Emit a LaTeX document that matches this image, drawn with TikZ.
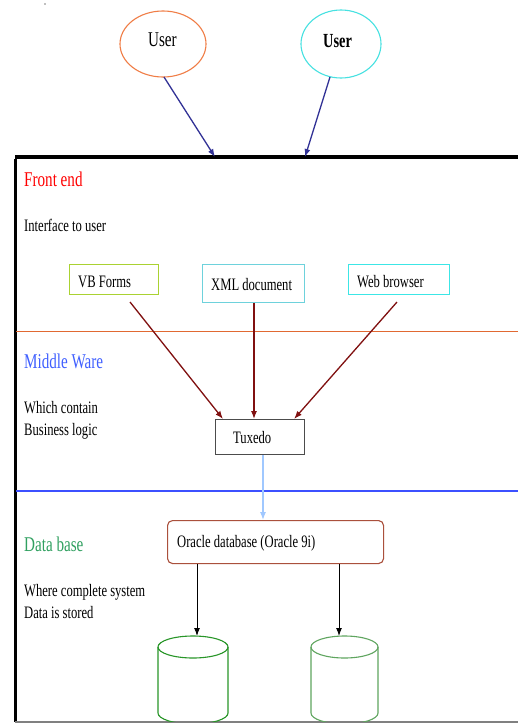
\documentclass[tikz,border=0pt]{standalone}
\usepackage{fontspec}
\setmainfont{Liberation Serif}[FakeStretch=0.72]
\usetikzlibrary{arrows.meta,shapes.geometric}
\definecolor{uorange}{RGB}{240,125,70}
\definecolor{ucyan}{RGB}{70,225,225}
\definecolor{unavy}{RGB}{50,50,150}
\definecolor{fered}{RGB}{255,0,0}
\definecolor{mwblue}{RGB}{64,96,255}
\definecolor{dbgreen}{RGB}{48,160,96}
\definecolor{vbcol}{RGB}{170,210,50}
\definecolor{xmlcol}{RGB}{110,210,220}
\definecolor{webcol}{RGB}{60,230,230}
\definecolor{darrow}{RGB}{128,16,16}
\definecolor{seporange}{RGB}{225,105,50}
\definecolor{sepblue}{RGB}{60,80,255}
\definecolor{lblue}{RGB}{160,200,255}
\definecolor{oracol}{RGB}{170,80,60}
\definecolor{cylA}{RGB}{40,150,40}
\definecolor{cylB}{RGB}{95,165,95}
\tikzset{
  lbl/.style={anchor=base west,inner sep=0pt,font=\fontsize{17.5}{20}\selectfont},
  head/.style={anchor=base west,inner sep=0pt,font=\fontsize{21}{24}\selectfont},
  tbox/.style={draw,line width=1.1pt,inner sep=0pt,anchor=north west},
  userell/.style={ellipse,draw,line width=1.1pt,inner sep=0pt},
  uarrow/.style={draw=unavy,line width=1.3pt,-{Latex[length=8pt,width=6pt]}},
  rarrow/.style={draw=darrow,line width=1.3pt,-{Latex[length=8pt,width=6pt]}},
  barrow/.style={draw=black,line width=1pt,-{Latex[length=8pt,width=6pt]}},
}
\begin{document}
\begin{tikzpicture}[x=1pt,y=-1pt]
\useasboundingbox[fill=white] (0,0) rectangle (518,723);
% speck
\fill[gray] (45,4) circle (0.8);
% users
\node[userell,draw=uorange,minimum width=86pt,minimum height=66pt] (u1) at (163,44) {};
\node[anchor=base west,inner sep=0pt,font=\fontsize{21}{24}\selectfont] (u1t) at (148,46) {User};
\node[userell,draw=ucyan,minimum width=80pt,minimum height=68pt] (u2) at (341,44) {};
\node[anchor=base west,inner sep=0pt,font=\fontsize{20}{24}\selectfont\bfseries] (u2t) at (323,47) {User};
% frame
\coordinate (tl) at (15,157);
\coordinate (tr) at (518,157);
\coordinate (bl) at (15,722);
\coordinate (br) at (518,722);
\draw[line width=4pt] (tl) -- (tr);
\draw[line width=3pt] ([yshift=-2pt]tl) -- (bl);
\draw[line width=1.5pt,gray] (bl) -- (br);
\coordinate (a1) at (215,157);
\coordinate (a2) at (305,157);
\coordinate (u1o) at (164,77);
\coordinate (u2o) at (330,77);
\draw[uarrow] (u1o) -- (a1);
\draw[uarrow] (u2o) -- (a2);
% separators
\coordinate (s1l) at (16,331);
\coordinate (s1r) at (518,331);
\draw[seporange,line width=1pt] (s1l) -- (s1r);
\coordinate (s2l) at (16,491);
\coordinate (s2r) at (518,491);
\draw[sepblue,line width=1.2pt] (s2l) -- (s2r);
% section texts
\node[head,text=fered] (fe) at (24,186) {Front end};
\node[lbl] (iu) at (24,231) {Interface to user};
\node[head,text=mwblue] (mw) at (24,368) {Middle Ware};
\node[lbl] (wc) at (24,413) {Which contain};
\node[lbl] (bl1) at (24,435) {Business logic};
\node[head,text=dbgreen] (db) at (24,551) {Data base};
\node[lbl] (wcs) at (24,596) {Where complete system};
\node[lbl] (dis) at (24,618) {Data is stored};
% front-end boxes
\node[tbox,draw=vbcol,minimum width=89pt,minimum height=30pt] (vb) at (69,264) {};
\node[lbl] (vbt) at (78,287) {VB Forms};
\node[tbox,draw=xmlcol,minimum width=102pt,minimum height=38pt] (xml) at (202,264) {};
\node[lbl] (xmlt) at (211,290) {XML document};
\node[tbox,draw=webcol,minimum width=101pt,minimum height=30pt] (web) at (348,264) {};
\node[lbl] (webt) at (357,287) {Web browser};
% tuxedo
\node[tbox,draw=black!70,minimum width=89pt,minimum height=35pt] (tux) at (215,419) {};
\node[lbl] (tuxt) at (233,443) {Tuxedo};
\coordinate (vbo) at (130,302);
\coordinate (webo) at (397,302);
\coordinate (xcol) at (254,0);
\draw[rarrow] (vbo) -- ([xshift=8pt]tux.north west);
\draw[rarrow] (xml.south -| xcol) -- (tux.north -| xcol);
\draw[rarrow] (webo) -- ([xshift=-11pt]tux.north east);
% oracle
\node[tbox,draw=oracol,rounded corners=5pt,minimum width=216pt,minimum height=43pt] (ora) at (167,520) {};
\node[lbl] (orat) at (177,547) {Oracle database (Oracle 9i)};
\coordinate (tcol) at (263,0);
\draw[draw=lblue,line width=1.2pt,-{Latex[length=8pt,width=6pt]}] (tux.south -| tcol) -- (ora.north -| tcol);
% cylinders
\begin{scope}
\clip (0,0) rectangle (518,721);
\draw[cylA,line width=1.1pt] (193,647) ellipse (35 and 11);
\draw[cylA,line width=1.1pt] (158,647) -- (158,713) arc[start angle=180,end angle=360,x radius=35,y radius=-11] -- (228,647);
\draw[cylB,line width=1.1pt] (344.5,647) ellipse (33.5 and 11);
\draw[cylB,line width=1.1pt] (311,647) -- (311,713) arc[start angle=180,end angle=360,x radius=33.5,y radius=-11] -- (378,647);
\end{scope}
\coordinate (c1) at (197,636);
\coordinate (c2) at (339,636);
\draw[barrow] (ora.south -| c1) -- (c1);
\draw[barrow] (ora.south -| c2) -- (c2);
\end{tikzpicture}
\end{document}
